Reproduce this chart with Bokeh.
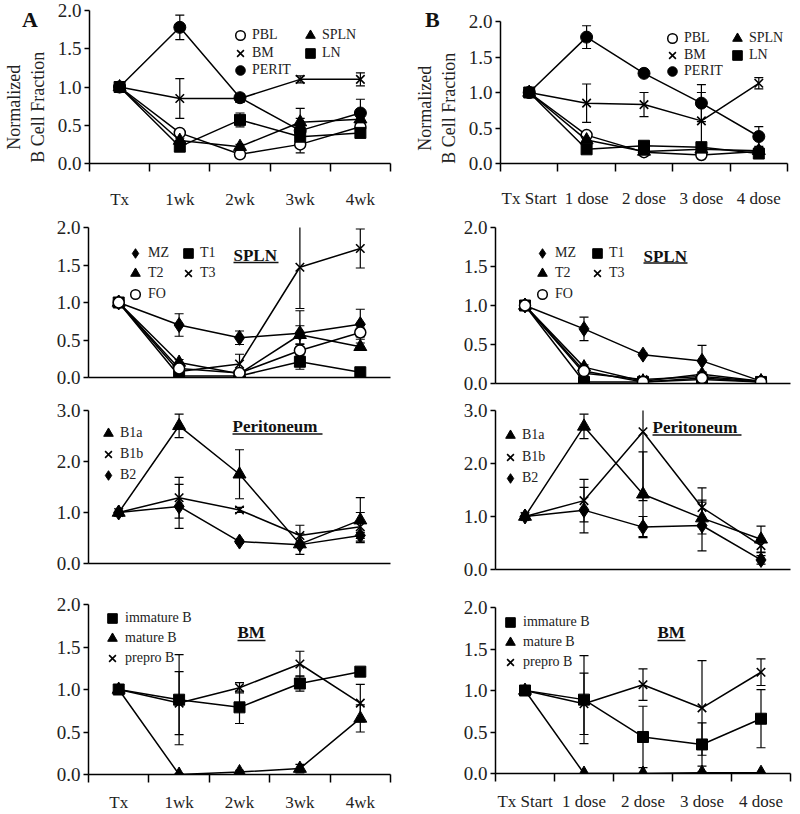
from bokeh.plotting import figure
from bokeh.models import (Range1d, LinearAxis, FixedTicker, Whisker, TeeHead, ColumnDataSource,
                          Legend, LegendItem, Label, BoxAnnotation, NumeralTickFormatter,
                          GridBox, Div)
from bokeh.embed import file_html
from bokeh.resources import INLINE

# ---------------- data ----------------
weeks = ["Tx", "1wk", "2wk", "3wk", "4wk"]
doses = ["Tx Start", "1 dose", "2 dose", "3 dose", "4 dose"]

# Panel A, top: total B cells by tissue
a_pbl = [1.00, 0.40, 0.12, 0.25, 0.48]
a_pbl_err = [0, 0.02, 0.02, 0.02, 0.03]
a_spln = [1.00, 0.30, 0.22, 0.54, 0.58]
a_spln_err = [0, 0.03, 0.03, 0.05, 0.04]
a_bm = [1.00, 0.85, 0.85, 1.10, 1.10]
a_bm_err = [0, 0.26, 0.05, 0.045, 0.085]
a_ln = [1.00, 0.22, 0.57, 0.35, 0.40]
a_ln_err = [0, 0.03, 0.09, 0.03, 0.03]
a_perit = [1.00, 1.78, 0.86, 0.43, 0.66]
a_perit_err = [0, 0.16, 0.05, 0.29, 0.18]

# Panel B, top
b_pbl = [1.00, 0.40, 0.16, 0.12, 0.17]
b_pbl_err = [0, 0.02, 0.02, 0.02, 0.02]
b_spln = [1.00, 0.33, 0.17, 0.20, 0.18]
b_spln_err = [0, 0.02, 0.02, 0.03, 0.02]
b_bm = [1.00, 0.85, 0.83, 0.60, 1.13]
b_bm_err = [0, 0.27, 0.17, 0.40, 0.08]
b_ln = [1.00, 0.20, 0.25, 0.23, 0.14]
b_ln_err = [0, 0.02, 0.03, 0.03, 0.02]
b_perit = [1.00, 1.78, 1.27, 0.85, 0.38]
b_perit_err = [0, 0.16, 0.03, 0.26, 0.14]

# Spleen subsets
a_mz = [1.00, 0.70, 0.53, 0.59, 0.71]
a_mz_err = [0, 0.15, 0.09, 0.30, 0.20]
a_t1 = [1.00, 0.02, 0.02, 0.21, 0.07]
a_t1_err = [0, 0.01, 0.01, 0.10, 0.01]
a_t2 = [1.00, 0.20, 0.05, 0.57, 0.41]
a_t2_err = [0, 0.04, 0.02, 0.12, 0.05]
a_t3 = [1.00, 0.08, 0.18, 1.47, 1.72]
a_t3_err = [0, 0.03, 0.13, 0.55, 0.26]
a_fo = [1.00, 0.12, 0.06, 0.36, 0.60]
a_fo_err = [0, 0.02, 0.02, 0.08, 0.06]

b_mz = [1.00, 0.70, 0.37, 0.29, 0.03]
b_mz_err = [0, 0.15, 0.02, 0.20, 0.02]
b_t1 = [1.00, 0.02, 0.02, 0.05, 0.02]
b_t1_err = [0, 0.01, 0.01, 0.02, 0.01]
b_t2 = [1.00, 0.21, 0.03, 0.12, 0.03]
b_t2_err = [0, 0.03, 0.02, 0.03, 0.02]
b_t3 = [1.00, 0.13, 0.05, 0.09, 0.03]
b_t3_err = [0, 0.03, 0.04, 0.05, 0.02]
b_fo = [1.00, 0.16, 0.02, 0.07, 0.02]
b_fo_err = [0, 0.02, 0.01, 0.02, 0.01]

# Peritoneum subsets
a_b1a = [1.00, 2.70, 1.75, 0.38, 0.85]
a_b1a_err = [0, 0.23, 0.48, 0.20, 0.44]
a_b1b = [1.00, 1.29, 1.05, 0.55, 0.72]
a_b1b_err = [0, 0.40, 0.05, 0.20, 0.28]
a_b2 = [1.00, 1.12, 0.43, 0.37, 0.55]
a_b2_err = [0, 0.43, 0.03, 0.05, 0.06]

b_b1a = [1.00, 2.70, 1.42, 0.97, 0.57]
b_b1a_err = [0, 0.23, 0.80, 0.30, 0.25]
b_b1b = [1.00, 1.30, 2.60, 1.17, 0.45]
b_b1b_err = [0, 0.40, 1.30, 0.37, 0.12]
b_b2 = [1.00, 1.12, 0.80, 0.83, 0.18]
b_b2_err = [0, 0.43, 0.20, 0.48, 0.08]

# Bone marrow subsets
a_imm = [1.00, 0.88, 0.79, 1.07, 1.21]
a_imm_err = [0, 0.53, 0.19, 0.09, 0.04]
a_mat = [1.00, 0.00, 0.03, 0.07, 0.66]
a_mat_err = [0, 0.01, 0.02, 0.05, 0.16]
a_pre = [1.00, 0.84, 1.02, 1.30, 0.84]
a_pre_err = [0, 0.37, 0.06, 0.15, 0.22]

b_imm = [1.00, 0.89, 0.44, 0.35, 0.66]
b_imm_err = [0, 0.53, 0.37, 0.26, 0.35]
b_mat = [1.00, 0.00, 0.00, 0.01, 0.01]
b_mat_err = [0, 0.0, 0.0, 0.01, 0.0]
b_pre = [1.00, 0.84, 1.07, 0.79, 1.22]
b_pre_err = [0, 0.37, 0.19, 0.57, 0.16]

# ---------------- styling ----------------
SERIF = "Liberation Serif"
W = 400
ROWS = [(0, 212), (212, 184), (396, 191), (587, 227)]
MARK = {
    "ocircle": dict(marker="circle", size=11, fill_color="white", line_color="black", line_width=1.5),
    "circle": dict(marker="circle", size=12, fill_color="black", line_color="black", line_width=1),
    "x": dict(marker="x", size=12, line_color="black", line_width=1.6),
    "triangle": dict(marker="triangle", size=13, fill_color="black", line_color="black", line_width=1),
    "square": dict(marker="square", size=11, fill_color="black", line_color="black", line_width=1),
    "diamond": dict(marker="diamond", size=15, fill_color="black", line_color="black", line_width=1),
}
NB = "\u00a0"


def build(ref, colx, rowi, yend, yticks, series, legends, xlabels=None, standoff=20,
          title=None, ylabel=None):
    L, R, T, B = ref
    yoff, H = ROWS[rowi]
    fl = L - colx
    fr = R - colx
    ft = T - yoff
    fb = B - yoff
    fh = fb - ft
    p = figure(width=W, height=H, x_range=Range1d(0, 5), y_range=Range1d(0, yend),
               x_axis_type=None, y_axis_type=None, toolbar_location=None, output_backend="svg",
               min_border_left=fl, min_border_right=W - fr, min_border_top=ft,
               min_border_bottom=H - fb)
    p.outline_line_color = None
    p.frame_align = False

    def to_data(rx, ry):
        return (rx - L) / (R - L) * 5, (B - ry) / (B - T) * yend

    yax = LinearAxis(ticker=FixedTicker(ticks=yticks, minor_ticks=[]),
                     formatter=NumeralTickFormatter(format="0.0"),
                     major_tick_out=5, major_tick_in=0, major_tick_line_width=1.5,
                     axis_line_width=1.5, major_label_standoff=3,
                     major_label_text_font=SERIF, major_label_text_font_size="19px",
                     major_label_text_color="#222222")
    if ylabel:
        yax.axis_label = ylabel
        yax.axis_label_text_font = SERIF
        yax.axis_label_text_font_size = "18px"
        yax.axis_label_text_font_style = "normal"
        yax.axis_label_text_color = "#222222"
        yax.axis_label_standoff = 7
    p.add_layout(yax, "left")

    centers = [i + 0.5 for i in range(5)]
    if xlabels:
        xax = LinearAxis(ticker=FixedTicker(ticks=centers, minor_ticks=[0, 1, 2, 3, 4, 5]),
                         major_label_overrides={c: t for c, t in zip(centers, xlabels)},
                         major_tick_out=0, major_tick_in=0,
                         minor_tick_out=8, minor_tick_in=0, minor_tick_line_width=1.5,
                         axis_line_width=1.5, major_label_standoff=standoff,
                         major_label_text_font=SERIF, major_label_text_font_size="17px",
                         major_label_text_color="#222222")
    else:
        xax = LinearAxis(ticker=FixedTicker(ticks=[], minor_ticks=[]),
                         major_tick_out=0, major_tick_in=0, minor_tick_out=0, minor_tick_in=0,
                         axis_line_width=1.5, major_label_text_font_size="0px",
                         major_label_standoff=0)
    p.add_layout(xax, "below")

    rends = {}
    for name, vals, errs, mk in series:
        p.line(centers, vals, line_color="black", line_width=1.5)
        ex = [c for c, e in zip(centers, errs) if e > 0]
        hi = [v + e for v, e in zip(vals, errs) if e > 0]
        lo = [v - e for v, e in zip(vals, errs) if e > 0]
        if ex:
            src = ColumnDataSource(dict(x=ex, hi=hi, lo=lo))
            p.add_layout(Whisker(source=src, base="x", upper="hi", lower="lo",
                                 line_color="black", line_width=1.2,
                                 upper_head=TeeHead(size=9, line_width=1.2, line_color="black"),
                                 lower_head=TeeHead(size=9, line_width=1.2, line_color="black")))
        rends[name] = p.scatter(centers, vals, **MARK[mk])

    # one legend box per entry, so that each row sits where the reference has it
    GW = 24
    for names, rx, ry, rowh, gap in legends:
        for i, nm in enumerate(names):
            cy = (ry - T) + i * rowh          # row centre, px below the frame top
            leg = Legend(items=[LegendItem(label=nm, renderers=[rends[nm]])],
                         location=(rx - L - GW / 2, fh - cy - GW / 2),
                         glyph_width=GW, glyph_height=GW, label_height=GW,
                         spacing=0, padding=0, margin=0,
                         label_standoff=round(gap - GW / 2),
                         border_line_alpha=0, background_fill_alpha=0,
                         label_text_font=SERIF, label_text_font_size="14px",
                         label_text_color="#222222")
            p.add_layout(leg)

    if title:
        txt, tl, tr, mid, ul = title
        x0, y0 = to_data(tl, mid)
        x1, _ = to_data(tr, mid)
        _, u0 = to_data(tl, ul - 0.8)
        _, u1 = to_data(tl, ul + 0.8)
        p.add_layout(Label(x=x0, y=y0, text=txt, text_font=SERIF, text_font_style="bold",
                           text_font_size="17px", text_align="left", text_baseline="middle",
                           text_color="#111111"))
        p.add_layout(BoxAnnotation(left=x0, right=x1, top=u0, bottom=u1, fill_color="#111111",
                                   fill_alpha=1, line_alpha=0))
    return p


YT2 = [0, 0.5, 1.0, 1.5, 2.0]
YT3 = [0, 1.0, 2.0, 3.0]

A1 = build((88, 390, 10, 163), 0, 0, 2, YT2,
           [("PBL", a_pbl, a_pbl_err, "ocircle"), ("SPLN", a_spln, a_spln_err, "triangle"),
            ("BM", a_bm, a_bm_err, "x"), ("LN", a_ln, a_ln_err, "square"),
            ("PERIT", a_perit, a_perit_err, "circle")],
           [(["PBL", "BM", "PERIT"], 239, 35, 17.5, 7), (["SPLN", "LN"], 309, 35, 17.5, 9)],
           xlabels=weeks, standoff=18,
           ylabel="Normalized" + NB * 9 + "\nB Cell Fraction" + NB * 9)

A2 = build((88, 390, 227, 377), 0, 1, 2, YT2,
           [("MZ", a_mz, a_mz_err, "diamond"), ("T1", a_t1, a_t1_err, "square"),
            ("T2", a_t2, a_t2_err, "triangle"), ("T3", a_t3, a_t3_err, "x"),
            ("FO", a_fo, a_fo_err, "ocircle")],
           [(["MZ", "T2", "FO"], 135, 253, 20.3, 13), (["T1", "T3"], 188, 253, 20.3, 10)],
           title=("SPLN", 233, 278, 254.5, 262))

A3 = build((88, 390, 410, 563), 0, 2, 3, YT3,
           [("B1a", a_b1a, a_b1a_err, "triangle"), ("B1b", a_b1b, a_b1b_err, "x"),
            ("B2", a_b2, a_b2_err, "diamond")],
           [(["B1a", "B1b", "B2"], 108, 433, 21, 12)],
           title=("Peritoneum", 232, 322, 425.5, 433.5))

A4 = build((88, 390, 604, 774), 0, 3, 2, YT2,
           [("immature B", a_imm, a_imm_err, "square"), ("mature B", a_mat, a_mat_err, "triangle"),
            ("prepro B", a_pre, a_pre_err, "x")],
           [(["immature B", "mature B", "prepro B"], 112, 618, 20, 13)],
           xlabels=weeks, standoff=10, title=("BM", 237, 265, 632, 640))

B1 = build((500, 787, 21, 163), 400, 0, 2, YT2,
           [("PBL", b_pbl, b_pbl_err, "ocircle"), ("SPLN", b_spln, b_spln_err, "triangle"),
            ("BM", b_bm, b_bm_err, "x"), ("LN", b_ln, b_ln_err, "square"),
            ("PERIT", b_perit, b_perit_err, "circle")],
           [(["PBL", "BM", "PERIT"], 672, 38, 16.5, 8), (["SPLN", "LN"], 737, 38, 16.5, 8)],
           xlabels=doses, standoff=17,
           ylabel="Normalized" + NB * 7 + "\nB Cell Fraction" + NB * 7)

B2 = build((495, 790, 227, 383), 400, 1, 2, YT2,
           [("MZ", b_mz, b_mz_err, "diamond"), ("T1", b_t1, b_t1_err, "square"),
            ("T2", b_t2, b_t2_err, "triangle"), ("T3", b_t3, b_t3_err, "x"),
            ("FO", b_fo, b_fo_err, "ocircle")],
           [(["MZ", "T2", "FO"], 542, 253, 20.3, 13), (["T1", "T3"], 597, 253, 20.3, 10)],
           title=("SPLN", 643, 687, 255.5, 262.5))

B3 = build((495, 790, 410, 569), 400, 2, 3, YT3,
           [("B1a", b_b1a, b_b1a_err, "triangle"), ("B1b", b_b1b, b_b1b_err, "x"),
            ("B2", b_b2, b_b2_err, "diamond")],
           [(["B1a", "B1b", "B2"], 510, 435, 21.7, 12)],
           title=("Peritoneum", 652, 741, 426.5, 434.5))

B4 = build((495, 790, 607, 773), 400, 3, 2, YT2,
           [("immature B", b_imm, b_imm_err, "square"), ("mature B", b_mat, b_mat_err, "triangle"),
            ("prepro B", b_pre, b_pre_err, "x")],
           [(["immature B", "mature B", "prepro B"], 510, 622, 20, 13)],
           xlabels=doses, standoff=10, title=("BM", 657, 685, 632, 640))

LETTER_STYLE = {"font-family": SERIF, "font-size": "22px", "font-weight": "bold",
                "line-height": "22px", "color": "#111111"}
divA = Div(text="A", width=20, height=24, margin=(9, 0, 0, 22), styles=LETTER_STYLE)
divB = Div(text="B", width=20, height=24, margin=(9, 0, 0, 25), styles=LETTER_STYLE)

layout = GridBox(children=[(A1, 0, 0), (A2, 1, 0), (A3, 2, 0), (A4, 3, 0),
                           (B1, 0, 1), (B2, 1, 1), (B3, 2, 1), (B4, 3, 1),
                           (divA, 0, 0), (divB, 0, 1)])
open("out.html", "w").write(file_html(layout, INLINE))
